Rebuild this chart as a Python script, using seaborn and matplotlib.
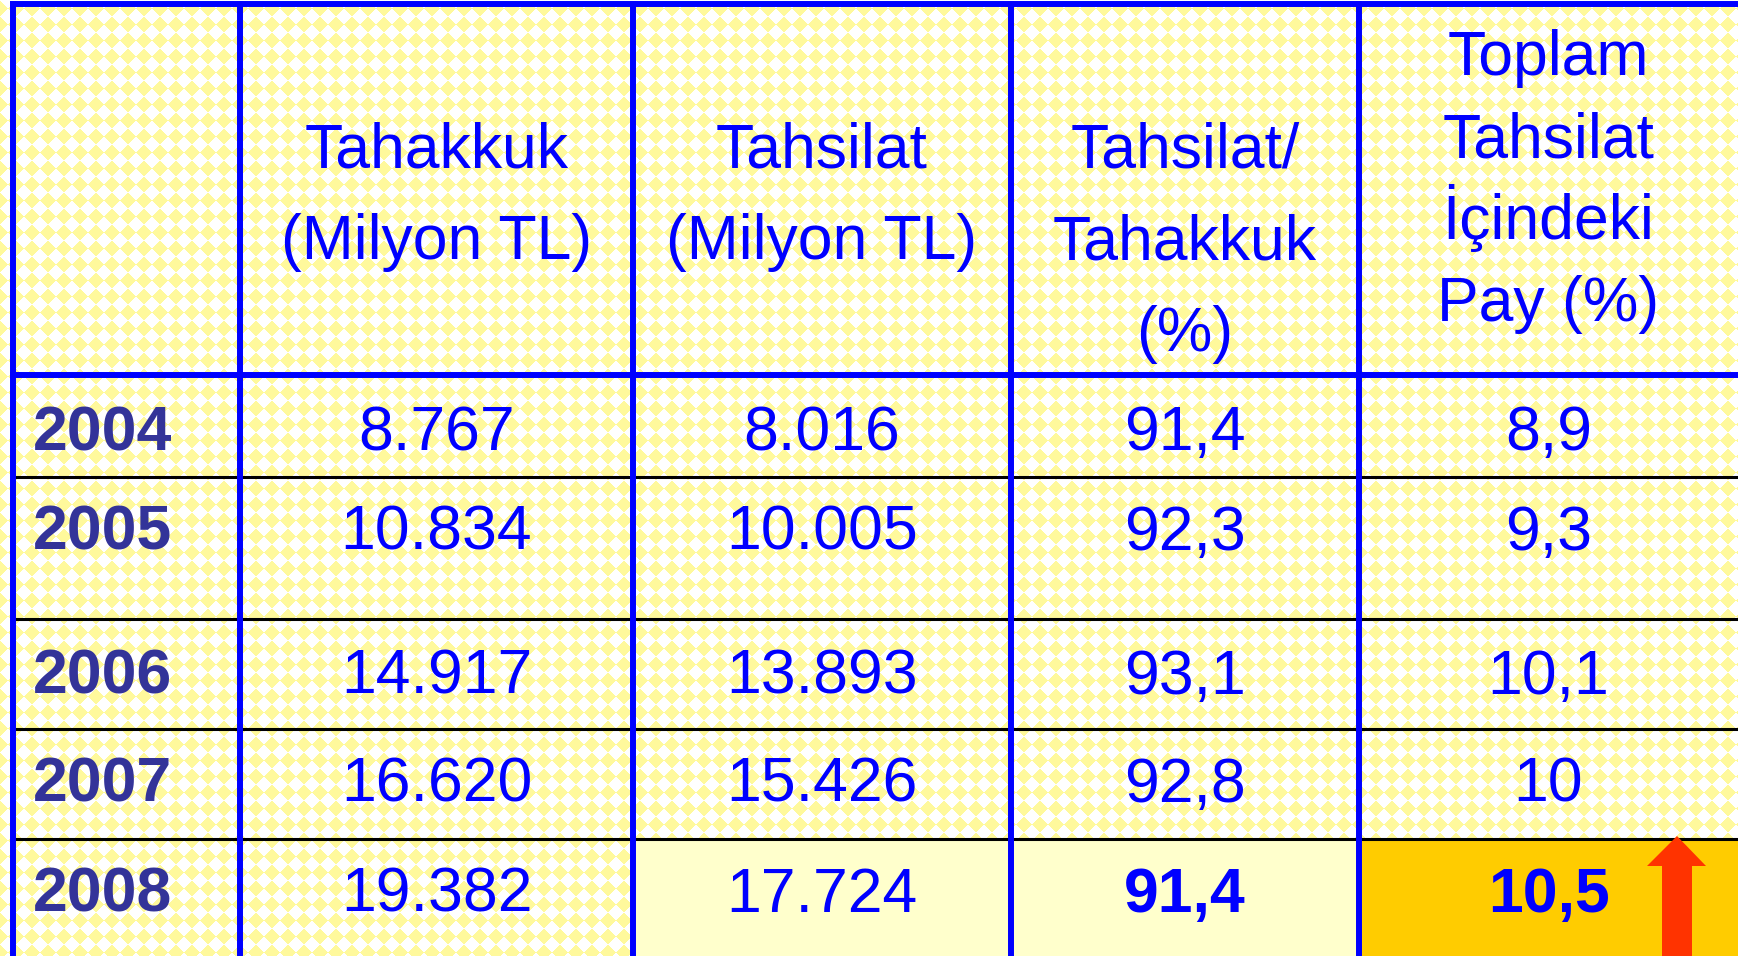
# -*- coding: utf-8 -*-
import numpy as np
import matplotlib
matplotlib.use('Agg')
import matplotlib.pyplot as plt
import seaborn as sns

# 表格数据
years = ['2004', '2005', '2006', '2007', '2008']
tahakkuk = [8767, 10834, 14917, 16620, 19382]
tahsilat = [8016, 10005, 13893, 15426, 17724]
oran = [91.4, 92.3, 93.1, 92.8, 91.4]
pay = [8.9, 9.3, 10.1, 10, 10.5]
headers = ['Tahakkuk\n(Milyon TL)', 'Tahsilat\n(Milyon TL)',
           'Tahsilat/\nTahakkuk\n(%)', 'Toplam\nTahsilat\nİçindeki\nPay (%)']

sns.set_theme(style='white')
plt.rcParams['font.family'] = ['Liberation Sans', 'DejaVu Sans']

W, H = 1738, 956
BLUE = '#0000FF'
YEAR_C = '#333399'

fig = plt.figure(figsize=(W / 100, H / 100), dpi=100)
ax = fig.add_axes([0, 0, 1, 1])
ax.set_xlim(0, W)
ax.set_ylim(H, 0)
ax.axis('off')

# 背景菱形格纹
yy, xx = np.mgrid[0:H, 0:W]
chk = (((xx + yy) // 16) + ((xx - yy) // 16)) % 2
bg = np.ones((H, W, 3))
yellow = np.array([255, 249, 156]) / 255
bg[chk == 1] = yellow
ax.imshow(bg, extent=(0, W, H, 0), interpolation='antialiased', zorder=0)

# 布局
col_x = [13, 240, 633, 1011, 1359, W]
row_y = [375, 477, 619, 729, 839, H]
base_y = [450, 550, 694, 802, 912]
fs = 45

# 高亮单元格
ax.add_patch(plt.Rectangle((col_x[2], row_y[4]), col_x[4] - col_x[2], H - row_y[4],
                           color='#FFFFCC', lw=0, zorder=1))
ax.add_patch(plt.Rectangle((col_x[4], row_y[4]), W - col_x[4], H - row_y[4],
                           color='#FFCC00', lw=0, zorder=1))

# 网格线
for x in col_x[:-1]:
    ax.plot([x, x], [1, H], color=BLUE, lw=4.3, solid_capstyle='butt', zorder=3)
ax.plot([10, W], [3.5, 3.5], color=BLUE, lw=4.3, solid_capstyle='butt', zorder=3)
ax.plot([10, W], [row_y[0], row_y[0]], color=BLUE, lw=4.3, solid_capstyle='butt', zorder=3)
for y in row_y[1:-1]:
    ax.plot([13, W], [y, y], color='black', lw=2.2, solid_capstyle='butt', zorder=2)

# 表头
head_first = [167, 167, 167, 75]
head_step = [92, 92, 92, 82]
for j, h in enumerate(headers):
    cx = (col_x[j + 1] + col_x[j + 2]) / 2
    for k, line in enumerate(h.split('\n')):
        ax.text(cx, head_first[j] + k * head_step[j], line, color=BLUE, fontsize=fs,
                ha='center', va='baseline', zorder=4)

# 数据
cols = [
    [f'{v:,}'.replace(',', '.') for v in tahakkuk],
    [f'{v:,}'.replace(',', '.') for v in tahsilat],
    [f'{v:g}'.replace('.', ',') for v in oran],
    [f'{v:g}'.replace('.', ',') for v in pay],
]
for i, yr in enumerate(years):
    ax.text(33, base_y[i], yr, color=YEAR_C, fontsize=fs, fontweight='bold',
            ha='left', va='baseline', zorder=4)
    for j, col in enumerate(cols):
        cx = (col_x[j + 1] + col_x[j + 2]) / 2
        bold = (i == len(years) - 1 and j >= 2)
        ax.text(cx, base_y[i], col[i], color=BLUE, fontsize=fs,
                fontweight='bold' if bold else 'normal',
                ha='center', va='baseline', zorder=4)

# 上升箭头
arrow = [(1677, 836), (1706, 866), (1692, 866), (1692, H), (1662, H), (1662, 866), (1647, 866)]
ax.add_patch(plt.Polygon(arrow, closed=True, color='#FF3300', lw=0, zorder=5))

fig.savefig('out.png', dpi=100)
plt.close(fig)
